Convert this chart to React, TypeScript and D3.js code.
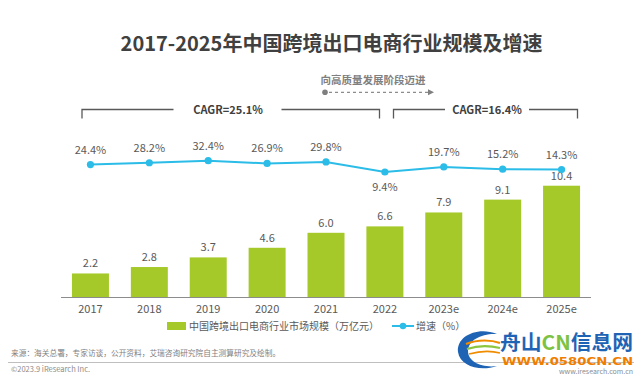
import React from 'react';
import * as d3 from 'd3';

const years = ['2017', '2018', '2019', '2020', '2021', '2022', '2023e', '2024e', '2025e'];
const marketSize = [2.2, 2.8, 3.7, 4.6, 6.0, 6.6, 7.9, 9.1, 10.4];
const growthRate = [24.4, 28.2, 32.4, 26.9, 29.8, 9.4, 19.7, 15.2, 14.3];
const title = '2017-2025年中国跨境出口电商行业规模及增速';
const barLegend = '中国跨境出口电商行业市场规模（万亿元）';
const lineLegend = '增速（%）';
const cagrLabels = ['CAGR=25.1%', 'CAGR=16.4%'];
const noteText = '向高质量发展阶段迈进';
const sourceText = '来源：海关总署，专家访谈，公开资料，艾瑞咨询研究院自主测算研究及绘制。';

const FONT = '"Noto Sans CJK SC", "Noto Sans", sans-serif';
const GREEN = '#a4c928';
const BLUE = '#2bbce8';

export default function App() {
  const x = d3.scaleBand<string>().domain(years).range([61, 591]).paddingInner(0.372).paddingOuter(0.186);
  const y = d3.scaleLinear().domain([0, 12]).range([297, 297 - 128.4]);
  const y2 = d3.scaleLinear().domain([0, 100]).range([176.6, 127.5]);
  const cx = (d: string) => (x(d) as number) + x.bandwidth() / 2;
  const line = d3.line<number>().x((_, i) => cx(years[i])).y((v) => y2(v));
  const fmt1 = d3.format('.1f');

  return (
    <div style={{ position: 'fixed', left: 0, top: 0 }}>
      <svg width={640} height={375} style={{ display: 'block', background: '#fff' }} fontFamily={FONT}>
        <rect width={640} height={375} fill="#fff" />
        <text x={331.5} y={51} textAnchor="middle" fontSize={20} fontWeight="bold" fill="#404040">{title}</text>

        {/* note arrow */}
        <text x={373} y={84} textAnchor="middle" fontSize={10.5} fontWeight="bold" fill="#7f7f7f">{noteText}</text>
        <circle cx={325} cy={92.3} r={2.8} fill="#7f7f7f" />
        <line x1={329} x2={428} y1={92.3} y2={92.3} stroke="#8c8c8c" strokeWidth={1.2} strokeDasharray="3,3" />
        <path d="M428,89.3 L434,92.3 L428,95.3 Z" fill="#7f7f7f" />

        {/* CAGR brackets */}
        <path d="M82,118.5 V109.5 H173.5" fill="none" stroke="#595959" strokeWidth={1.3} />
        <path d="M281.5,109.5 H379.5 V118.5" fill="none" stroke="#595959" strokeWidth={1.3} />
        <text x={228} y={113.5} textAnchor="middle" fontSize={11} fontWeight="bold" fill="#404040">{cagrLabels[0]}</text>
        <path d="M393.5,118.5 V109.5 H445" fill="none" stroke="#595959" strokeWidth={1.3} />
        <path d="M529,109.5 H577.5 V118.5" fill="none" stroke="#595959" strokeWidth={1.3} />
        <text x={487} y={113.5} textAnchor="middle" fontSize={11} fontWeight="bold" fill="#404040">{cagrLabels[1]}</text>

        {/* bars */}
        {marketSize.map((v, i) => (
          <g key={years[i]}>
            <rect x={x(years[i])} y={y(v)} width={x.bandwidth()} height={y(0) - y(v)} fill={GREEN} />
            <text x={cx(years[i])} y={y(v) - 6} textAnchor="middle" fontSize={11} fill="#595959">{fmt1(v)}</text>
          </g>
        ))}

        {/* axis */}
        <line x1={61} x2={591} y1={297.5} y2={297.5} stroke="#8c8c8c" strokeWidth={1} />
        {years.map((d) => (
          <text key={d} x={cx(d)} y={313} textAnchor="middle" fontSize={11} fill="#595959">{d}</text>
        ))}

        {/* line */}
        <path d={line(growthRate) as string} fill="none" stroke={BLUE} strokeWidth={2} />
        {growthRate.map((v, i) => (
          <g key={'g' + years[i]}>
            <circle cx={cx(years[i])} cy={y2(v)} r={3.6} fill={BLUE} />
            <text x={cx(years[i])} y={i === 5 ? y2(v) + 19 : y2(v) - 11} textAnchor="middle" fontSize={11} fill="#595959">{fmt1(v) + '%'}</text>
          </g>
        ))}

        {/* legend */}
        <rect x={167} y={322} width={19} height={8} fill={GREEN} />
        <text x={189} y={330} fontSize={10} fill="#595959">{barLegend}</text>
        <line x1={392} x2={414} y1={326} y2={326} stroke={BLUE} strokeWidth={2} />
        <circle cx={403} cy={326} r={3.2} fill={BLUE} />
        <text x={416} y={330} fontSize={10} fill="#595959">{lineLegend}</text>

        {/* footer */}
        <text x={11} y={356} fontSize={7.7} fill="#7f7f7f">{sourceText}</text>
        <line x1={8} x2={634} y1={362.5} y2={362.5} stroke="#bfbfbf" strokeWidth={1} />
        <text x={11} y={372} fontSize={7.5} fill="#8c8c8c">©2023.9 iResearch Inc.</text>
        <text x={633} y={373.5} textAnchor="end" fontSize={7} fill="#8c8c8c">www.iresearch.com.cn</text>

        {/* watermark */}
        <g>
          <path d="M497,334 C478,326 456,336 458,352 C460,366 480,372 497,366 C482,368 468,362 468,351 C468,340 482,333 497,334 Z" fill="#1f64b4" />
          <path d="M466,344 C478,339 492,340 500,343" fill="none" stroke="#f08c00" strokeWidth={2.2} />
          <path d="M467,349 C479,345 492,346 500,348" fill="none" stroke="#8cc63f" strokeWidth={2.2} />
          <path d="M469,354 C480,351 492,351 500,353" fill="none" stroke="#f08c00" strokeWidth={1.8} />
          <text x={500} y={350} fontSize={20} fontWeight="bold" fill="#1f64b4" textLength={133} lengthAdjust="spacingAndGlyphs">
            舟山<tspan fill="#7dc242">CN</tspan>信息网
          </text>
          <text x={502} y={364.5} fontSize={10.5} fontWeight="bold" fill="#f07d00" fontFamily="DejaVu Sans, sans-serif" textLength={131} lengthAdjust="spacingAndGlyphs">WWW.0580CN.CN</text>
        </g>
      </svg>
    </div>
  );
}
